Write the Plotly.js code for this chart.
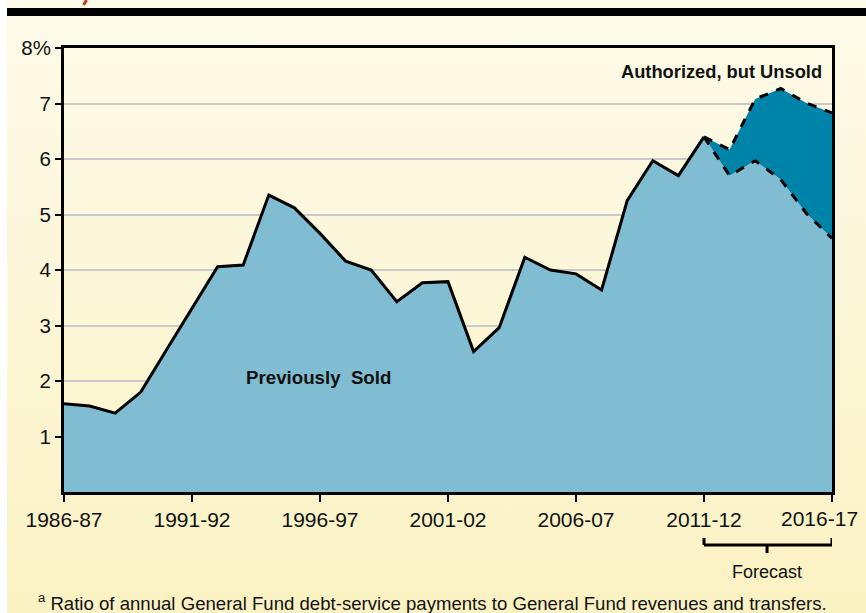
<!DOCTYPE html>
<html>
<head>
<meta charset="utf-8">
<script src="https://cdn.plot.ly/plotly-3.0.1.min.js"></script>
<style>
  html, body { margin:0; padding:0; width:866px; height:613px; background:#ffffff; overflow:hidden; }
  #bg { position:absolute; left:7px; top:0; width:859px; height:613px;
        background: linear-gradient(to bottom, #fdfae9 0%, #fcf7d9 45%, #fbf2c3 100%); }
  #chart { position:absolute; left:0; top:0; width:866px; height:613px; }
</style>
</head>
<body>
<div id="bg"></div>
<div id="chart"></div>
<script>
// Fiscal years (x categories)
const years = ["1986-87","1987-88","1988-89","1989-90","1990-91","1991-92","1992-93","1993-94",
  "1994-95","1995-96","1996-97","1997-98","1998-99","1999-00","2000-01","2001-02","2002-03",
  "2003-04","2004-05","2005-06","2006-07","2007-08","2008-09","2009-10","2010-11","2011-12",
  "2012-13","2013-14","2014-15","2015-16","2016-17"];
// Debt-service ratio on previously sold bonds (%), actual through 2011-12, forecast after
const previouslySold = [1.59,1.55,1.42,1.80,2.56,3.31,4.06,4.09,5.35,5.12,4.66,4.16,4.00,3.43,
  3.77,3.79,2.53,2.96,4.23,4.00,3.93,3.64,5.25,5.97,5.70,6.40,
  5.70,5.97,5.63,5.02,4.57];
// Forecast years and ratio including authorized but unsold bonds (%)
const forecastYears = ["2011-12","2012-13","2013-14","2014-15","2015-16","2016-17"];
const withAuthorized = [6.40,6.17,7.08,7.27,7.01,6.83];
// Tick labels
const xTickVals = ["1986-87","1991-92","1996-97","2001-02","2006-07","2011-12","2016-17"];
const yTickVals = [1,2,3,4,5,6,7,8];
const yTickText = ["1","2","3","4","5","6","7","8%"];

const actualYears = years.slice(0, 26);
const actualVals = previouslySold.slice(0, 26);
const forecastSold = previouslySold.slice(25);
// last tick label is nudged left to stay inside the page (drawn as an annotation)
const xTickText = xTickVals.map((v, i) => i === xTickVals.length - 1 ? "" : v);

const FONT = "Liberation Sans, Arial, Helvetica, sans-serif";

const traces = [
  { x: years, y: previouslySold, type: "scatter", mode: "none", fill: "tozeroy",
    fillcolor: "#80bdd2", hoverinfo: "skip" },
  { x: forecastYears, y: forecastSold, type: "scatter", mode: "lines",
    line: { color: "#000", width: 3, dash: "dash" } },
  { x: forecastYears, y: withAuthorized, type: "scatter", mode: "lines", fill: "tonexty",
    fillcolor: "#0083a8", line: { color: "#000", width: 3, dash: "dash" } },
  { x: actualYears, y: actualVals, type: "scatter", mode: "lines",
    line: { color: "#000", width: 3 } }
];

const layout = {
  width: 866, height: 613,
  margin: { l: 64, r: 34, t: 48, b: 121 },
  paper_bgcolor: "rgba(0,0,0,0)",
  plot_bgcolor: "rgba(0,0,0,0)",
  showlegend: false,
  font: { family: FONT, color: "#111" },
  xaxis: {
    type: "category", range: [0, 30], categoryorder: "array", categoryarray: years,
    tickvals: xTickVals, ticktext: xTickText,
    ticks: "outside", ticklen: 7, tickwidth: 2, tickcolor: "#000",
    showline: true, linecolor: "#000", linewidth: 3, mirror: true,
    showgrid: false, zeroline: false,
    tickfont: { family: FONT, size: 21, color: "#111" }
  },
  yaxis: {
    range: [0, 8], tickvals: yTickVals, ticktext: yTickText,
    ticks: "outside", ticklen: 6, tickwidth: 2, tickcolor: "#000",
    showline: true, linecolor: "#000", linewidth: 3, mirror: true,
    showgrid: true, gridcolor: "#c9c9c9", gridwidth: 2, zeroline: false,
    tickfont: { family: FONT, size: 20.5, color: "#111" }
  },
  shapes: [
    // top black rule
    { type: "rect", xref: "paper", yref: "paper", x0: -0.0742, x1: 1.05, y0: 1.0721, y1: 1.0901,
      fillcolor: "#000", line: { width: 0 } },
    // red glyph remnant of cut-off heading
    { type: "line", xref: "paper", yref: "paper", x0: 0.0294, y0: 1.108, x1: 0.0255, y1: 1.097,
      line: { color: "#c0392b", width: 3 } },
    // forecast bracket
    { type: "line", xref: "x", yref: "paper", x0: "2011-12", x1: "2016-17", y0: -0.1194, y1: -0.1194,
      line: { color: "#000", width: 3 } },
    { type: "line", xref: "x", yref: "paper", x0: "2011-12", x1: "2011-12", y0: -0.1036, y1: -0.1194,
      line: { color: "#000", width: 3 } },
    { type: "line", xref: "x", yref: "paper", x0: "2016-17", x1: "2016-17", y0: -0.1036, y1: -0.1194,
      line: { color: "#000", width: 3 } },
    { type: "line", xref: "paper", yref: "paper", x0: 0.9154, x1: 0.9154, y0: -0.1194, y1: -0.1374,
      line: { color: "#000", width: 3 } }
  ],
  annotations: [
    { text: xTickVals[xTickVals.length - 1], xref: "paper", yref: "paper",
      x: 1.0365, y: -0.0608, xanchor: "right", yanchor: "middle", showarrow: false,
      font: { family: FONT, size: 21, color: "#111" } },
    { text: "<b>Authorized, but Unsold</b>", xref: "paper", yref: "paper",
      x: 0.8555, y: 0.946, xanchor: "center", yanchor: "middle", showarrow: false,
      font: { family: FONT, size: 18.3, color: "#111" } },
    { text: "<b>Previously  Sold</b>", xref: "paper", yref: "paper",
      x: 0.3317, y: 0.2568, xanchor: "center", yanchor: "middle", showarrow: false,
      font: { family: FONT, size: 18.7, color: "#111" } },
    { text: "Forecast", xref: "paper", yref: "paper",
      x: 0.9154, y: -0.180, xanchor: "center", yanchor: "middle", showarrow: false,
      font: { family: FONT, size: 18, color: "#111" } },
    { text: "<sup>a</sup> Ratio of annual General Fund debt-service payments to General Fund revenues and transfers.",
      xref: "paper", yref: "paper", x: -0.036, y: -0.248, xanchor: "left", yanchor: "middle",
      showarrow: false, font: { family: FONT, size: 18.6, color: "#111" } }
  ]
};

Plotly.newPlot("chart", traces, layout, { displayModeBar: false, staticPlot: true });
</script>
</body>
</html>
